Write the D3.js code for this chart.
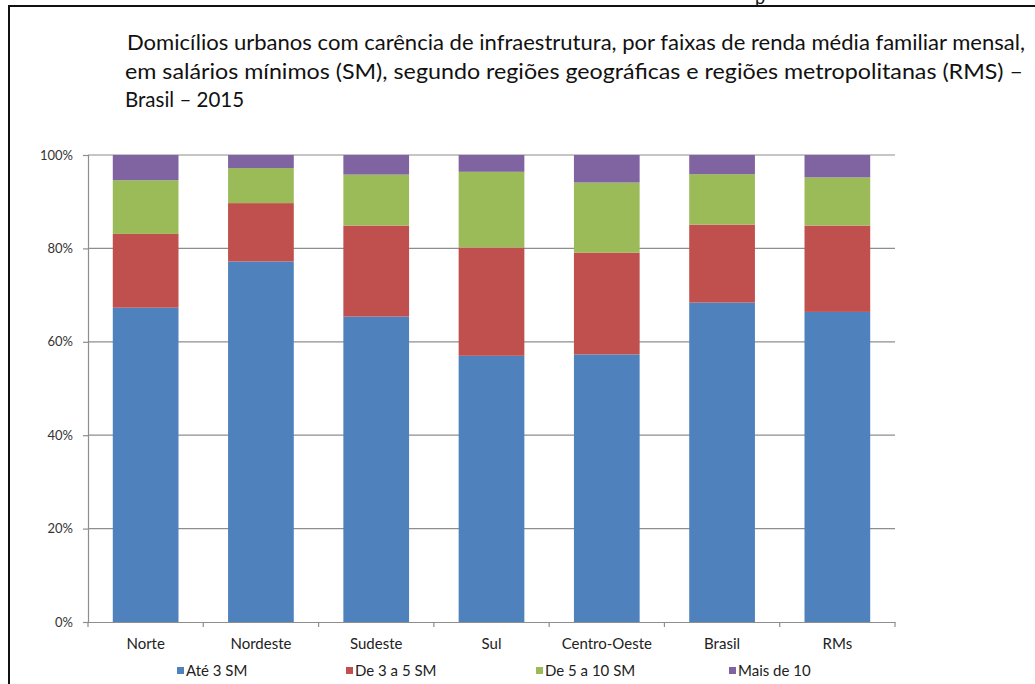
<!DOCTYPE html>
<html><head><meta charset="utf-8">
<script src="https://cdn.jsdelivr.net/npm/d3@7/dist/d3.min.js"></script>
<style>body{margin:0;background:#fff}svg{display:block}text{font-family:Lato,"Open Sans",sans-serif}</style>
</head><body><svg id="c" width="1035" height="684"></svg>
<script>
const categories = ["Norte","Nordeste","Sudeste","Sul","Centro-Oeste","Brasil","RMs"];
const seriesNames = ["Até 3 SM","De 3 a 5 SM","De 5 a 10 SM","Mais de 10"];
const ate3 = [67.3,77.2,65.4,57.0,57.3,68.4,66.4];
const de3a5 = [15.8,12.5,19.5,23.2,21.8,16.7,18.5];
const de5a10 = [11.5,7.5,10.9,16.2,15.0,10.8,10.3];
const mais10 = [5.4,2.8,4.2,3.6,5.9,4.1,4.8];
const yTicks = [0,20,40,60,80,100];
const titleLines = ["Domicílios urbanos com carência de infraestrutura, por faixas de renda média familiar mensal,",
  "em salários mínimos (SM), segundo regiões geográficas e regiões metropolitanas (RMS) –",
  "Brasil – 2015"];
const colors = ["#4F81BD","#C0504D","#9BBB59","#8064A2"];

(function(){
const svg = d3.select("#c");
// frame
svg.append("line").attr("x1",9).attr("x2",1035).attr("y1",6).attr("y2",6).attr("stroke","#111").attr("stroke-width",2);
svg.append("line").attr("x1",9).attr("x2",9).attr("y1",5).attr("y2",684).attr("stroke","#111").attr("stroke-width",2);
svg.append("text").attr("x",755).attr("y",4).attr("font-size",18).attr("fill","#111").attr("font-family","Liberation Serif").text("p");

// title
const tl = [{x:127,y:50,w:898},{x:125,y:79,w:898},{x:125,y:107,w:null}];
titleLines.forEach((t,i)=>{
  const el = svg.append("text").attr("x",tl[i].x).attr("y",tl[i].y).attr("font-size",20.5).attr("fill","#111").text(t);
  if(tl[i].w) el.attr("textLength",tl[i].w).attr("lengthAdjust","spacingAndGlyphs");
});

const pL=88, pR=895, pT=155, pB=622;
const x = d3.scaleBand().domain(categories).range([pL,pR]).paddingInner(0.43).paddingOuter(0.215);
const xb = d3.scaleBand().domain(categories).range([pL,pR]);
const y = d3.scaleLinear().domain([0,100]).range([pB,pT]);

// gridlines
svg.append("g").selectAll("line").data(yTicks.filter(d=>d>0)).join("line")
  .attr("x1",pL).attr("x2",pR).attr("y1",d=>y(d)).attr("y2",d=>y(d))
  .attr("stroke","#8e8e8e").attr("stroke-width",1.2);

// y axis
const ya = svg.append("g").attr("transform",`translate(${pL},0)`)
  .call(d3.axisLeft(y).tickValues(yTicks).tickFormat(d=>d+"%").tickSize(5).tickPadding(10));
ya.select(".domain").attr("stroke","#8e8e8e").attr("stroke-width",1.2);
ya.selectAll(".tick line").attr("stroke","#8e8e8e").attr("stroke-width",1.2);
ya.selectAll("text").attr("font-size",13).attr("fill","#333").attr("font-family","Lato");

// stacked bars
const rows = categories.map((c,i)=>({cat:c,a:ate3[i],b:de3a5[i],c:de5a10[i],d:mais10[i]}));
const stack = d3.stack().keys(["a","b","c","d"])(rows);
svg.append("g").selectAll("g").data(stack).join("g").attr("fill",(d,i)=>colors[i])
  .selectAll("rect").data(d=>d).join("rect")
  .attr("x",d=>x(d.data.cat)).attr("width",x.bandwidth())
  .attr("y",d=>y(d[1])).attr("height",d=>y(d[0])-y(d[1]));

// x axis
const xa = svg.append("g").attr("transform",`translate(0,${pB})`)
  .call(d3.axisBottom(xb).tickSize(0).tickPadding(16));
xa.select(".domain").attr("stroke","#8e8e8e").attr("stroke-width",1.2);
xa.selectAll("text").attr("font-size",15).attr("fill","#222").attr("font-family","Lato");
svg.append("g").selectAll("line").data(d3.range(categories.length+1)).join("line")
  .attr("x1",i=>pL+i*xb.step()).attr("x2",i=>pL+i*xb.step())
  .attr("y1",pB).attr("y2",pB+5).attr("stroke","#8e8e8e").attr("stroke-width",1.2);

// legend
const legX = [177,346,536,729];
const lg = svg.append("g").selectAll("g").data(seriesNames).join("g")
  .attr("transform",(d,i)=>`translate(${legX[i]},671)`);
lg.append("rect").attr("x",0).attr("y",-4).attr("width",7).attr("height",7).attr("fill",(d,i)=>colors[i]);
lg.append("text").attr("x",9).attr("y",5).attr("font-size",15).attr("fill","#222").text(d=>d);
})();
</script></body></html>
